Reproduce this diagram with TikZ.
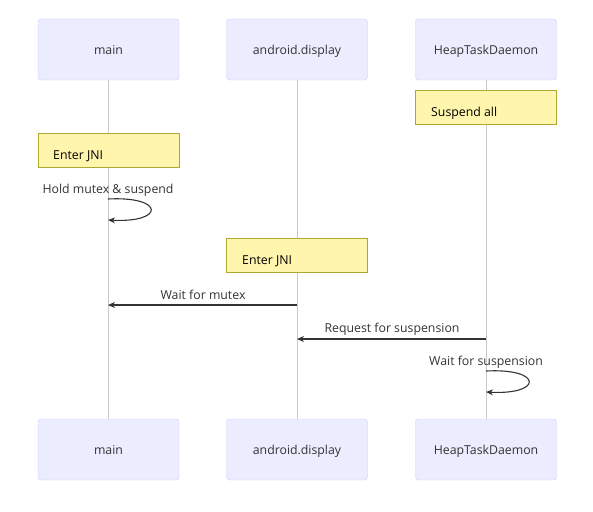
\documentclass[tikz,border=0pt]{standalone}
\usepackage{fontspec}
\setmainfont{Open Sans}
\usetikzlibrary{arrows.meta}
\definecolor{actfill}{HTML}{ECECFF}
\definecolor{actline}{HTML}{CCCCFF}
\definecolor{notefill}{HTML}{FFF5AD}
\definecolor{noteline}{HTML}{AAAA33}
\definecolor{txt}{HTML}{333333}
\definecolor{life}{HTML}{C8C8C8}
\tikzset{
  actor/.style={draw=actline, fill=actfill, rounded corners=3pt, minimum width=141pt, minimum height=61pt, inner sep=0pt, text=txt, text height=9pt, text depth=0pt, font=\fontsize{12.3pt}{14pt}\selectfont},
  notebox/.style={draw=noteline, fill=notefill, minimum width=141pt, minimum height=34pt, inner sep=0pt},
  lifeline/.style={draw=life, line width=0.8pt},
  msg/.style={draw=txt, line width=1.1pt, -{Stealth[length=7pt,width=6pt]}},
  lbl/.style={text=txt, font=\fontsize{12.3pt}{14pt}\selectfont, inner sep=0pt}
}
\begin{document}
\begin{tikzpicture}[x=1pt,y=-1pt]
\useasboundingbox (0,0) rectangle (593,511);
% lifelines
\coordinate (l1t) at (108,80); \coordinate (l1b) at (108,419);
\coordinate (l2t) at (297,80); \coordinate (l2b) at (297,419);
\coordinate (l3t) at (486,80); \coordinate (l3b) at (486,419);
\draw[lifeline] (l1t) -- (l1b);
\draw[lifeline] (l2t) -- (l2b);
\draw[lifeline] (l3t) -- (l3b);
% actors
\node[actor] (a1) at (108.5,49.5) {main};
\node[actor] (a2) at (297,49.5) {android.display};
\node[actor] (a3) at (486,49.5) {HeapTaskDaemon};
\node[actor] (b1) at (108.5,449.5) {main};
\node[actor] (b2) at (297,449.5) {android.display};
\node[actor] (b3) at (486,449.5) {HeapTaskDaemon};
% notes
\node[notebox] (n1) at (486,107) {};
\node[lbl, text=black, anchor=west] (n1t) at (431,113) {Suspend all};
\node[notebox] (n2) at (108.5,150) {};
\node[lbl, text=black, anchor=west] (n2t) at (53,156) {Enter JNI};
\node[notebox] (n3) at (297,255) {};
\node[lbl, text=black, anchor=west] (n3t) at (242,261) {Enter JNI};
% self loop main
\node[lbl] (m1) at (108,190) {Hold mutex \& suspend};
\coordinate (s1) at (108,199); \coordinate (e1) at (108,220);
\draw[msg] (s1) .. controls (165,196) and (165,223) .. (e1);
% wait for mutex
\coordinate (w2) at (297,305); \coordinate (w1) at (108,305);
\node[lbl] (m2) at (203,295) {Wait for mutex};
\draw[msg] (w2) -- (w1);
% request for suspension
\coordinate (r3) at (486,339); \coordinate (r2) at (297,339);
\node[lbl] (m3) at (392,329) {Request for suspension};
\draw[msg] (r3) -- (r2);
% self loop HTD
\node[lbl] (m4) at (486,362) {Wait for suspension};
\coordinate (s3) at (486,371); \coordinate (e3) at (486,392);
\draw[msg] (s3) .. controls (543,368) and (543,395) .. (e3);
\end{tikzpicture}
\end{document}
